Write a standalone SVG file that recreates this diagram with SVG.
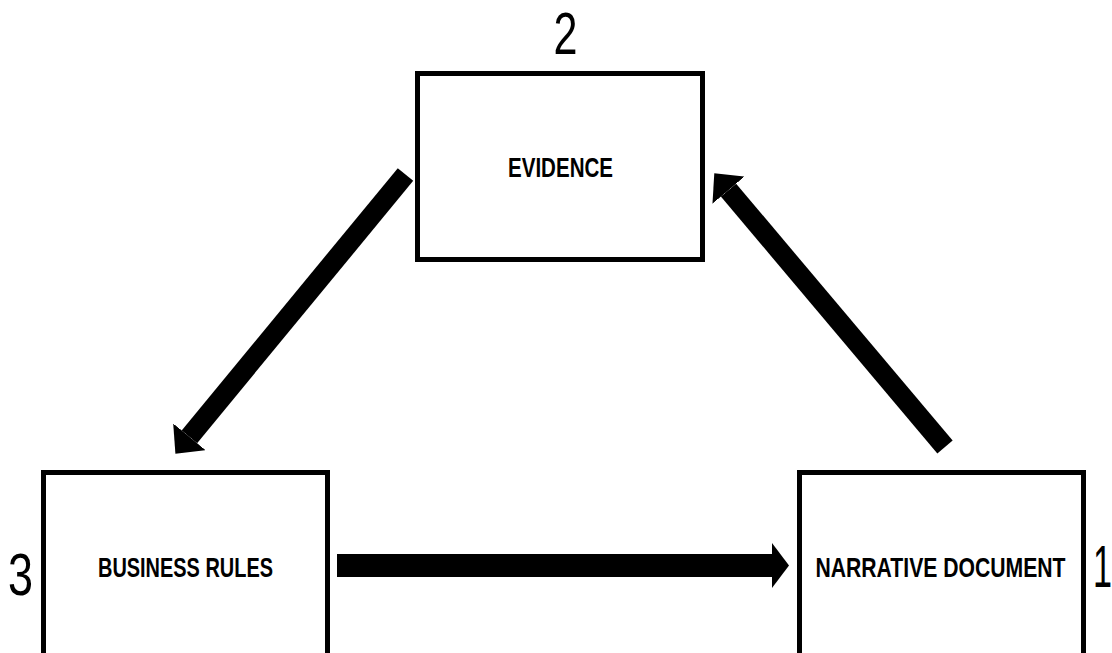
<svg xmlns="http://www.w3.org/2000/svg" width="1112" height="653" viewBox="0 0 1112 653">
  <style>
    .box { fill: #ffffff; stroke: #000000; stroke-width: 5; }
    .lbl { font-family: "Liberation Sans", Arial, sans-serif; font-weight: bold; font-size: 28px; fill: #000000; text-anchor: middle; }
    .num { font-family: "Liberation Sans", Arial, sans-serif; font-size: 60px; fill: #000000; }
    .shaft { stroke: #000000; fill: none; stroke-linecap: butt; }
  </style>
  <defs>
    <marker id="headD" markerUnits="userSpaceOnUse" viewBox="0 0 22 42" refX="0" refY="21" markerWidth="22" markerHeight="42" orient="auto">
      <path d="M0,0 L22,21 L0,42 Z" fill="#000000"/>
    </marker>
    <marker id="headH" markerUnits="userSpaceOnUse" viewBox="0 0 17 45" refX="0" refY="22.5" markerWidth="17" markerHeight="45" orient="auto">
      <path d="M0,0 L17,22.5 L0,45 Z" fill="#000000"/>
    </marker>
  </defs>
  <rect width="1112" height="653" fill="#ffffff"/>

  <g id="node-evidence">
    <rect class="box" x="417.5" y="73.5" width="285" height="186"/>
    <text class="lbl" x="560.5" y="177" textLength="105" lengthAdjust="spacingAndGlyphs">EVIDENCE</text>
    <text class="num" x="565.5" y="54" text-anchor="middle" textLength="24" lengthAdjust="spacingAndGlyphs">2</text>
  </g>

  <g id="node-business-rules">
    <rect class="box" x="43.5" y="472.5" width="284" height="200"/>
    <text class="lbl" x="185.5" y="577" textLength="175" lengthAdjust="spacingAndGlyphs">BUSINESS RULES</text>
    <text class="num" x="20.5" y="595" text-anchor="middle" textLength="25" lengthAdjust="spacingAndGlyphs">3</text>
  </g>

  <g id="node-narrative-document">
    <rect class="box" x="799.5" y="472.5" width="284" height="200"/>
    <text class="lbl" x="940.5" y="577" textLength="250" lengthAdjust="spacingAndGlyphs">NARRATIVE DOCUMENT</text>
    <text class="num" x="1093" y="587" textLength="19" lengthAdjust="spacingAndGlyphs">1</text>
  </g>

  <g id="connectors">
    <line class="shaft" x1="405.5" y1="174.5" x2="189.4" y2="436.8" stroke-width="20" marker-end="url(#headD)"/>
    <line class="shaft" x1="337" y1="565.5" x2="772" y2="565.5" stroke-width="23" marker-end="url(#headH)"/>
    <line class="shaft" x1="945" y1="447" x2="728.5" y2="190.1" stroke-width="20" marker-end="url(#headD)"/>
  </g>
</svg>
